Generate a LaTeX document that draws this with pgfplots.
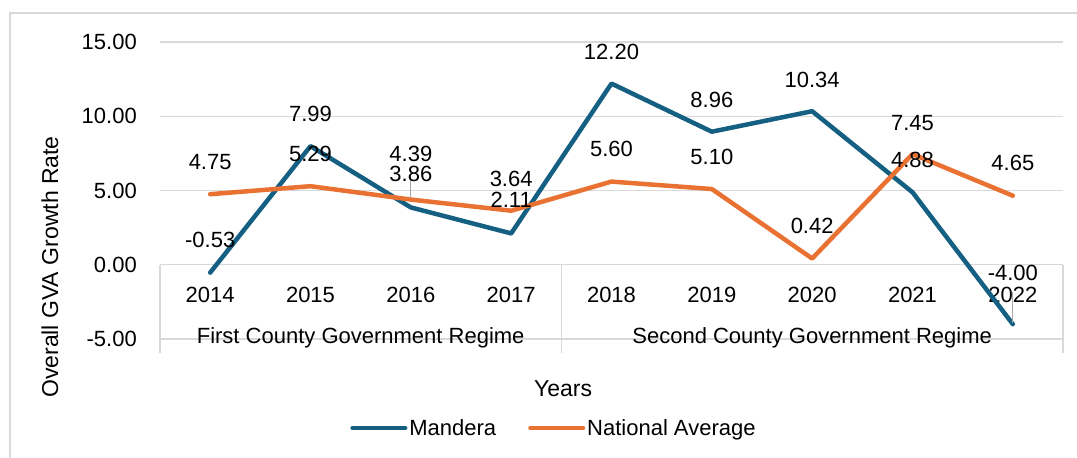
\documentclass[border=0pt]{standalone}
\usepackage{fontspec}
\setmainfont{Liberation Sans}
\usepackage{pgfplots}
\pgfplotsset{compat=1.18}
\usepackage{pgfplotstable}
\definecolor{mblue}{HTML}{156082}
\definecolor{morange}{HTML}{E97132}
\definecolor{gridc}{HTML}{D9D9D9}
\definecolor{leader}{HTML}{A6A6A6}

\pgfplotstableread{
x y
0 -0.53
1 7.99
2 3.86
3 2.11
4 12.20
5 8.96
6 10.34
7 4.88
8 -4.00
}\mandera

\pgfplotstableread{
x y
0 4.75
1 5.29
2 4.39
3 3.64
4 5.60
5 5.10
6 0.42
7 7.45
8 4.65
}\national

% label positions (x, label y, text)
\pgfplotstableread{
x ly lab
0 1.69 -0.53
1 10.15 7.99
2 6.14 3.86
3 4.38 2.11
4 14.34 12.20
5 11.13 8.96
6 12.47 10.34
7 7.08 4.88
8 -0.54 -4.00
}\mlab

\pgfplotstableread{
x ly lab
0 6.95 4.75
1 7.48 5.29
2 7.48 4.39
3 5.80 3.64
4 7.82 5.60
5 7.28 5.10
6 2.63 0.42
7 9.57 7.45
8 6.88 4.65
}\nlab

\newcommand{\fs}{\fontsize{22}{26}\selectfont}

\begin{document}
\begin{tikzpicture}
\path[use as bounding box] (0pt,0pt) rectangle (1077pt,458pt);
\draw[gridc, line width=1.3pt] (10pt,-10pt) -- (10pt,445pt) -- (1090pt,445pt);
\begin{axis}[
  at={(160pt,119pt)}, anchor=south west,
  scale only axis, width=903pt, height=297pt,
  xmin=-0.5, xmax=8.5, ymin=-5, ymax=15,
  ytick={-5,0,5,10,15},
  xtick={0,...,8},
  xticklabels={2014,2015,2016,2017,2018,2019,2020,2021,2022},
  ymajorgrids, grid style={gridc, line width=1.3pt},
  axis line style={draw=none},
  major tick length=0pt,
  tick label style={font=\fs, text=black},
  yticklabel style={anchor=east, inner sep=0pt, xshift=-23pt,
    /pgf/number format/.cd, fixed, fixed zerofill, precision=2, assume math mode=true},
  xticklabel style={anchor=center, inner sep=0pt, yshift=44pt},
  clip=false,
  xlabel={Years},
  xlabel style={at={(rel axis cs:0.4463,-0.1684)}, anchor=center, font=\fontsize{23}{27}\selectfont},
  ylabel={Overall GVA Growth Rate},
  ylabel style={at={(rel axis cs:-0.1218,0.2424)}, anchor=center, font=\fontsize{23}{27}\selectfont},
  legend columns=2,
  legend style={draw=none, fill=none, at={(0.4363,-0.2997)}, anchor=center,
    font=\fs, inner xsep=0pt,
    /tikz/every even column/.append style={column sep=30pt}},
  legend image code/.code={\draw[#1, line width=4pt, line cap=round] (0pt,0pt) -- (53pt,0pt);},
]
% category group box
\draw[gridc, line width=1.3pt] (axis cs:-0.5,0) -- (axis cs:-0.5,-5.93);
\draw[gridc, line width=1.3pt] (axis cs:3.5,0) -- (axis cs:3.5,-5.93);
\draw[gridc, line width=1.3pt] (axis cs:8.5,0) -- (axis cs:8.5,-5.93);
\node[font=\fs] at (axis cs:1.5,-4.95) {First County Government Regime};
\node[font=\fs] at (axis cs:6,-4.95) {Second County Government Regime};

\addplot[mblue, line width=4.5pt, line join=round, line cap=round] table[x=x,y=y] {\mandera};
\addlegendentry{Mandera}
\addplot[morange, line width=4.5pt, line join=round, line cap=round] table[x=x,y=y] {\national};
\addlegendentry{National Average}

% leader lines
\draw[leader, line width=1pt] (axis cs:2,6.53) -- (axis cs:2,4.51);
\draw[leader, line width=1pt] (axis cs:8,-1.82) -- (axis cs:8,-3.91);

% data labels
\addplot[draw=none, mark=none, forget plot, point meta=explicit symbolic,
  nodes near coords, every node near coord/.style={anchor=center, font=\fs, text=black, inner sep=0pt}]
  table[x=x, y=ly, meta=lab] {\mlab};
\addplot[draw=none, mark=none, forget plot, point meta=explicit symbolic,
  nodes near coords, every node near coord/.style={anchor=center, font=\fs, text=black, inner sep=0pt}]
  table[x=x, y=ly, meta=lab] {\nlab};
\end{axis}
\end{tikzpicture}
\end{document}
